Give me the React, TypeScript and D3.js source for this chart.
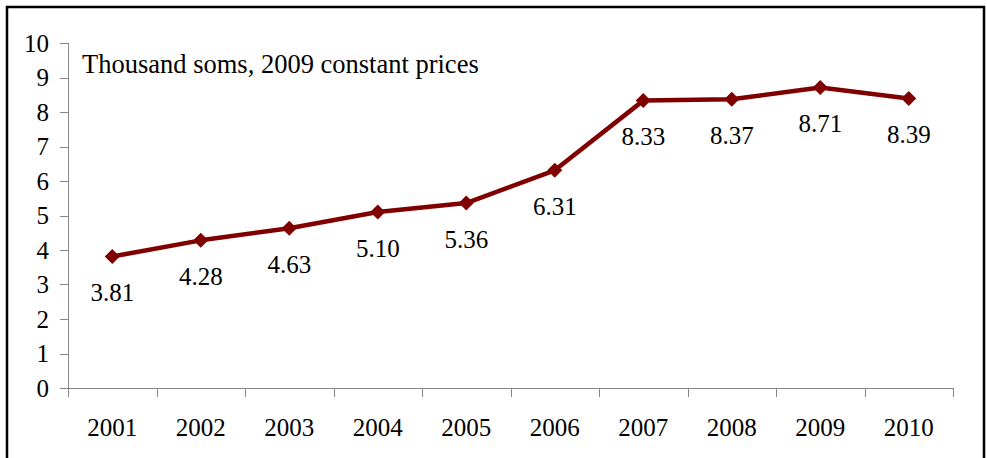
import React from "react";
import * as d3 from "d3";

const years = ["2001", "2002", "2003", "2004", "2005", "2006", "2007", "2008", "2009", "2010"];
const values = [3.81, 4.28, 4.63, 5.1, 5.36, 6.31, 8.33, 8.37, 8.71, 8.39];
const labels = ["3.81", "4.28", "4.63", "5.10", "5.36", "6.31", "8.33", "8.37", "8.71", "8.39"];
const yTicks = [0, 1, 2, 3, 4, 5, 6, 7, 8, 9, 10];
const title = "Thousand soms, 2009 constant prices";

export default function App() {
  const W = 987, H = 458;
  const x0 = 68, x1 = 953, yTop = 43, yBot = 388;
  const x = d3.scaleBand().domain(years).range([x0, x1]);
  const y = d3.scaleLinear().domain([0, 10]).range([yBot, yTop]);
  const cx = (d: string) => (x(d) as number) + x.bandwidth() / 2;
  const line = d3.line<number>().x((_, i) => cx(years[i])).y((v) => y(v));
  const font = "'Liberation Serif', 'Times New Roman', serif";
  const boundaries = years.map((d) => x(d) as number).concat([x1]);
  return (
    <svg width={W} height={H} style={{ position: "absolute", left: 0, top: 0 }}>
      <rect x={0} y={0} width={W} height={H} fill="#fff" />
      <rect x={7} y={7} width={977} height={470} fill="none" stroke="#000" strokeWidth={2.5} />
      <g stroke="#888" strokeWidth={1}>
        <line x1={x0 + 0.5} x2={x0 + 0.5} y1={yTop} y2={yBot} />
        {yTicks.map((t) => (
          <line key={t} x1={60} x2={x0 + 0.5} y1={Math.round(y(t)) + 0.5} y2={Math.round(y(t)) + 0.5} />
        ))}
        <line x1={x0} x2={x1 + 0.5} y1={yBot + 0.5} y2={yBot + 0.5} />
        {boundaries.map((b, i) => (
          <line key={i} x1={Math.round(b) + 0.5} x2={Math.round(b) + 0.5} y1={yBot} y2={yBot + 9} />
        ))}
      </g>
      <g fontFamily={font} fontSize={25} fill="#000">
        {yTicks.map((t) => (
          <text key={t} x={49} y={y(t) + 8.5} textAnchor="end">{t}</text>
        ))}
        {years.map((d) => (
          <text key={d} x={cx(d)} y={436} textAnchor="middle">{d}</text>
        ))}
        <text x={82} y={73} fontSize={26.5}>{title}</text>
        {values.map((v, i) => (
          <text key={i} x={cx(years[i])} y={y(v) + 44.5} textAnchor="middle">{labels[i]}</text>
        ))}
      </g>
      <path d={line(values) as string} fill="none" stroke="#800000" strokeWidth={4.5} strokeLinejoin="round" />
      {values.map((v, i) => (
        <path
          key={i}
          transform={`translate(${cx(years[i])},${y(v)})`}
          d="M0,-7.5L7.5,0L0,7.5L-7.5,0Z"
          fill="#800000"
        />
      ))}
    </svg>
  );
}
